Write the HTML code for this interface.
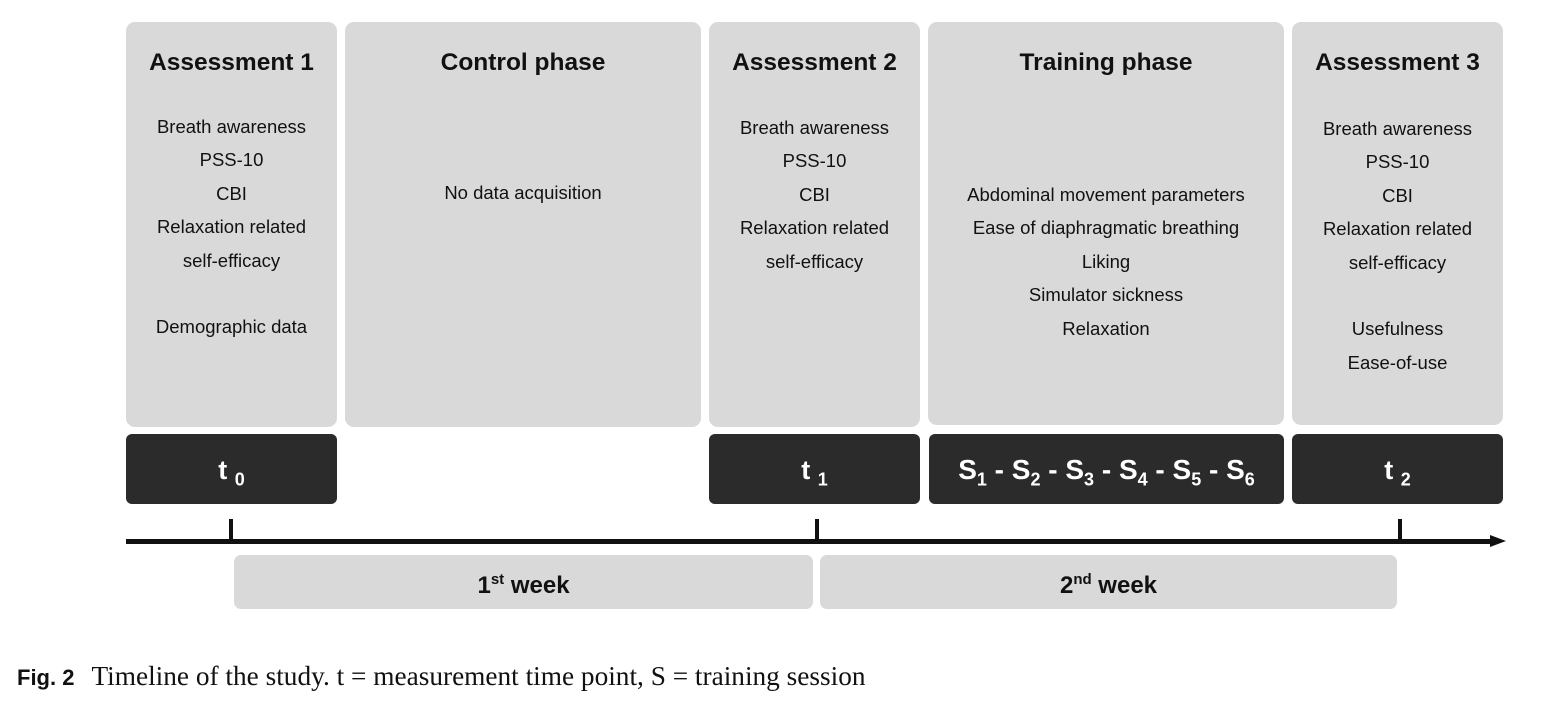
<!DOCTYPE html>
<html><head><meta charset="utf-8"><style>
body{margin:0;width:1544px;height:717px;background:#fff;position:relative;overflow:hidden;font-family:"Liberation Sans",Arial,sans-serif;}
.b{position:absolute;background:#d9d9d9;border-radius:9px;text-align:center;color:#111;}
.b h3{margin:0;position:absolute;top:27px;left:0;right:0;font-size:24.5px;font-weight:bold;}
.b .t{position:absolute;left:0;right:0;font-size:18.5px;line-height:33.4px;}
.d{position:absolute;background:#2b2b2b;border-radius:6px;color:#fff;font-weight:bold;font-size:27px;text-align:center;line-height:72px;}
.d sub{font-size:18px;}
.w{position:absolute;background:#d9d9d9;border-radius:7px;text-align:center;font-weight:bold;font-size:24px;line-height:50px;color:#111;}
.w sup{font-size:15px;}
.tick{position:absolute;width:4px;height:22px;background:#111;top:519px;}
</style></head><body>
<div class="b" style="left:126px;top:22px;width:211px;height:405px"><h3>Assessment 1</h3><div class="t" style="top:88px">Breath awareness<br>PSS-10<br>CBI<br>Relaxation related<br>self-efficacy<br><br>Demographic data</div></div>
<div class="b" style="left:345px;top:22px;width:356px;height:405px"><h3>Control phase</h3><div class="t" style="top:154px">No data acquisition</div></div>
<div class="b" style="left:709px;top:22px;width:211px;height:405px"><h3>Assessment 2</h3><div class="t" style="top:89px">Breath awareness<br>PSS-10<br>CBI<br>Relaxation related<br>self-efficacy</div></div>
<div class="b" style="left:928px;top:22px;width:356px;height:403px"><h3>Training phase</h3><div class="t" style="top:156px">Abdominal movement parameters<br>Ease of diaphragmatic breathing<br>Liking<br>Simulator sickness<br>Relaxation</div></div>
<div class="b" style="left:1292px;top:22px;width:211px;height:403px"><h3>Assessment 3</h3><div class="t" style="top:90px">Breath awareness<br>PSS-10<br>CBI<br>Relaxation related<br>self-efficacy<br><br>Usefulness<br>Ease-of-use</div></div>
<div class="d" style="left:126px;top:434px;width:211px;height:70px">t <sub>0</sub></div>
<div class="d" style="left:709px;top:434px;width:211px;height:70px">t <sub>1</sub></div>
<div class="d" style="left:929px;top:434px;width:355px;height:70px;font-size:28px">S<sub>1</sub> - S<sub>2</sub> - S<sub>3</sub> - S<sub>4</sub> - S<sub>5</sub> - S<sub>6</sub></div>
<div class="d" style="left:1292px;top:434px;width:211px;height:70px">t <sub>2</sub></div>
<div style="position:absolute;left:126px;top:539px;width:1366px;height:5px;background:#111"></div>
<div style="position:absolute;left:1490px;top:535px;width:0;height:0;border-top:6.5px solid transparent;border-bottom:6.5px solid transparent;border-left:16px solid #111"></div>
<div class="tick" style="left:229px"></div>
<div class="tick" style="left:815px"></div>
<div class="tick" style="left:1398px"></div>
<div class="w" style="left:234px;top:555px;width:579px;height:54px">1<sup>st</sup> week</div>
<div class="w" style="left:820px;top:555px;width:577px;height:54px">2<sup>nd</sup> week</div>
<div style="position:absolute;left:17px;top:661px;white-space:nowrap;color:#111"><b style="font-family:'Liberation Sans',sans-serif;font-size:22px">Fig. 2</b><span style="font-family:'Liberation Serif',serif;font-size:27.3px;margin-left:17px">Timeline of the study. t = measurement time point, S = training session</span></div>
</body></html>
